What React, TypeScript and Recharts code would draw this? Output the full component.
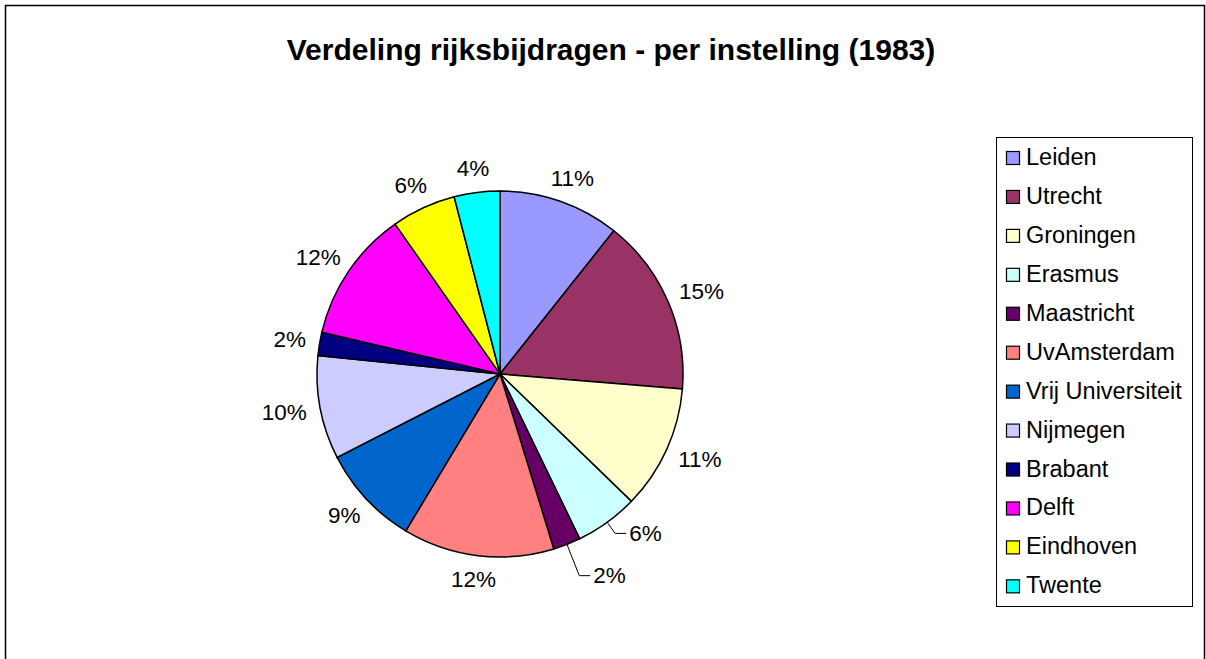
import React from 'react';
import { PieChart, Pie, Cell, Legend } from 'recharts';

const categories = [
  'Leiden', 'Utrecht', 'Groningen', 'Erasmus', 'Maastricht', 'UvAmsterdam',
  'Vrij Universiteit', 'Nijmegen', 'Brabant', 'Delft', 'Eindhoven', 'Twente',
];
const shares = [10.69, 15.62, 10.94, 5.58, 2.42, 13.36, 8.86, 9.14, 2.06, 11.61, 5.69, 4.03];
const pctLabels = ['11%', '15%', '11%', '6%', '2%', '12%', '9%', '10%', '2%', '12%', '6%', '4%'];
const colors = [
  '#9999FF', '#993366', '#FFFFCC', '#CCFFFF', '#660066', '#FF8080',
  '#0066CC', '#CCCCFF', '#000080', '#FF00FF', '#FFFF00', '#00FFFF',
];
const title = 'Verdeling rijksbijdragen - per instelling (1983)';

const data = categories.map((name, i) => ({ name, value: shares[i] }));
const total = shares.reduce((a, b) => a + b, 0);
const FONT = '"Liberation Sans", Arial, sans-serif';

const textWidth = (t: string, fs: number) =>
  t.split('').reduce((w, ch) => w + (ch === '%' ? 0.889 : 0.556) * fs, 0);

const renderLabel = (props: any) => {
  const { cx, cy, midAngle, outerRadius, index } = props;
  const rad = Math.PI / 180;
  const s = Math.cos(midAngle * rad);
  const c = Math.sin(midAngle * rad);
  const text = pctLabels[index];
  const pct = (shares[index] / total) * 100;
  const fs = 22.5;
  if (pct < 7 && s > 0 && c < 0) {
    const er = outerRadius + 49 - 6.33 * pct;
    const x0 = cx + outerRadius * s;
    const y0 = cy - outerRadius * c;
    const x1 = cx + er * s;
    const y1 = cy - er * c;
    const x2 = x1 + 11;
    return (
      <g key={`lbl-${index}`}>
        <polyline points={`${x0},${y0} ${x1},${y1} ${x2},${y1}`} stroke="#000" strokeWidth={1} fill="none" />
        <text x={x2 + 3} y={y1} textAnchor="start" dominantBaseline="central"
          fontFamily={FONT} fontSize={fs} fill="#000">{text}</text>
      </g>
    );
  }
  const R = outerRadius + 14;
  const w = textWidth(text, fs);
  const px = cx + R * s + (w / 2) * s;
  const py = cy - R * c - fs * 0.45 * c;
  return (
    <text key={`lbl-${index}`} x={px} y={py} textAnchor="middle" dominantBaseline="central"
      fontFamily={FONT} fontSize={fs} fill="#000">{text}</text>
  );
};

const renderLegend = () => {
  const rowH = 38.94;
  return (
    <svg width={198} height={472} style={{ display: 'block' }}>
      <rect x={0.5} y={0.5} width={196} height={469} fill="#fff" stroke="#000" strokeWidth={1} />
      {categories.map((name, i) => {
        const base = 28 + i * rowH;
        return (
          <g key={`leg-${i}`}>
            <rect x={10.5} y={base - 13.5} width={13} height={13} fill={colors[i]} stroke="#000" strokeWidth={1.2} />
            <text x={30} y={base} fontFamily={FONT} fontSize={23.5} fill="#000">{name}</text>
          </g>
        );
      })}
    </svg>
  );
};

export default function App() {
  return (
    <div style={{ position: 'absolute', left: 0, top: 0, width: 1206, height: 659, background: '#fff', overflow: 'hidden' }}>
      <svg width={1206} height={659} style={{ position: 'absolute', left: 0, top: 0 }}>
        <rect x={5.5} y={5.5} width={1199} height={720} fill="#fff" stroke="#000" strokeWidth={1.5} />
        <text x={611} y={60} textAnchor="middle" fontFamily={FONT} fontWeight="bold" fontSize={30}
          fill="#000">{title}</text>
      </svg>
      <div style={{ position: 'absolute', left: 0, top: 0 }}>
        <PieChart width={1206} height={659} margin={{ top: 0, right: 0, bottom: 0, left: 0 }}>
          <Pie
            data={data}
            dataKey="value"
            nameKey="name"
            cx={500}
            cy={374}
            outerRadius={183}
            startAngle={90}
            endAngle={-270}
            stroke="#000"
            strokeWidth={1.5}
            label={renderLabel}
            labelLine={false}
            isAnimationActive={false}
          >
            {data.map((d, i) => (
              <Cell key={`cell-${i}`} fill={colors[i]} />
            ))}
          </Pie>
          <Legend
            content={renderLegend}
            wrapperStyle={{ position: 'absolute', left: 996, top: 137, width: 198, height: 472 }}
          />
        </PieChart>
      </div>
    </div>
  );
}
